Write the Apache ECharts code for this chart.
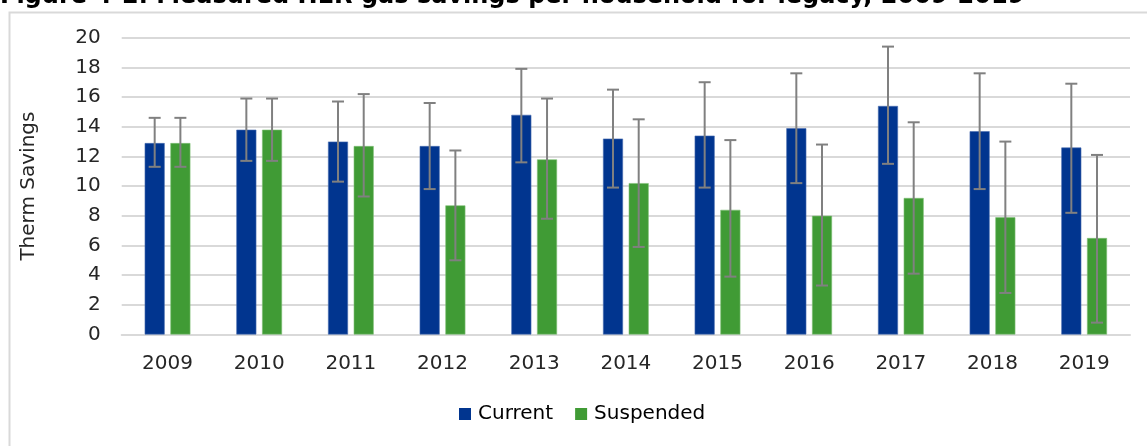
<!DOCTYPE html>
<html>
<head>
<meta charset="utf-8">
<script src="https://cdn.jsdelivr.net/npm/echarts@6/dist/echarts.min.js"></script>
<style>
html,body{margin:0;padding:0;background:#fff;}
#chart{width:1147px;height:446px;}
</style>
</head>
<body>
<div id="chart"></div>
<script>
const categories = ['2009','2010','2011','2012','2013','2014','2015','2016','2017','2018','2019'];
const current = [12.9, 13.8, 13.0, 12.7, 14.8, 13.2, 13.4, 13.9, 15.4, 13.7, 12.6];
const currentLow = [11.3, 11.7, 10.3, 9.8, 11.6, 9.9, 9.9, 10.2, 11.5, 9.8, 8.2];
const currentHigh = [14.6, 15.9, 15.7, 15.6, 17.9, 16.5, 17.0, 17.6, 19.4, 17.6, 16.9];
const suspended = [12.9, 13.8, 12.7, 8.7, 11.8, 10.2, 8.4, 8.0, 9.2, 7.9, 6.5];
const suspendedLow = [11.3, 11.7, 9.3, 5.0, 7.8, 5.9, 3.9, 3.3, 4.1, 2.8, 0.8];
const suspendedHigh = [14.6, 15.9, 16.2, 12.4, 15.9, 14.5, 13.1, 12.8, 14.3, 13.0, 12.1];
const yTicks = [0, 2, 4, 6, 8, 10, 12, 14, 16, 18, 20];

const FONT = 'DejaVu Sans';
const BAR_W = 20, BAR_GAP = 5.7;
const OFFSET = (BAR_W + BAR_GAP) / 2;

function errorSeries(low, high, dir) {
  return {
    type: 'custom',
    silent: true,
    z: 10,
    data: categories.map((c, i) => [i, low[i], high[i]]),
    renderItem: function (params, api) {
      const i = api.value(0);
      const lo = api.coord([i, api.value(1)]);
      const hi = api.coord([i, api.value(2)]);
      const x = lo[0] + dir * OFFSET;
      const cap = 6;
      const st = { stroke: '#808080', lineWidth: 2 };
      return {
        type: 'group',
        children: [
          { type: 'line', shape: { x1: x, y1: hi[1], x2: x, y2: lo[1] }, style: st },
          { type: 'line', shape: { x1: x - cap, y1: hi[1], x2: x + cap, y2: hi[1] }, style: st },
          { type: 'line', shape: { x1: x - cap, y1: lo[1], x2: x + cap, y2: lo[1] }, style: st }
        ]
      };
    }
  };
}

const chart = echarts.init(document.getElementById('chart'), null, { renderer: 'canvas' });
chart.setOption({
  animation: false,
  backgroundColor: '#fff',
  textStyle: { fontFamily: FONT },
  graphic: [
    { type: 'rect', left: 7, top: 10, shape: { x: 0, y: 0, width: 1300, height: 600 },
      style: { fill: 'none', stroke: '#d9d9d9', lineWidth: 2 }, z: -1 },
    { type: 'text', x: 0, y: -3, style: { text: 'Figure 4-2. Measured HER gas savings per household for legacy, 2009-2019',
      font: 'bold 24px "DejaVu Sans"', fill: '#000', textVerticalAlign: 'middle' } }
  ],
  grid: { left: 121.7, right: 17, top: 37.7, bottom: 111.5, containLabel: false },
  legend: {
    left: 459, top: 404, padding: 0,
    itemWidth: 12, itemHeight: 12, itemGap: 22,
    icon: 'rect',
    itemStyle: { borderWidth: 0 },
    textStyle: { fontFamily: FONT, fontSize: 20, color: '#000', padding: [0, 0, 0, 2] },
    data: ['Current', 'Suspended']
  },
  xAxis: {
    type: 'category',
    data: categories,
    axisLine: { lineStyle: { color: '#d9d9d9', width: 2 } },
    axisTick: { show: false },
    axisLabel: { fontFamily: FONT, fontSize: 20, color: '#262626', margin: 19 }
  },
  yAxis: {
    type: 'value',
    min: 0, max: 20, interval: 2,
    name: 'Therm Savings',
    nameLocation: 'middle',
    nameGap: 83,
    nameTextStyle: { fontFamily: FONT, fontSize: 20, color: '#262626' },
    axisLine: { show: false },
    axisTick: { show: false },
    splitLine: { lineStyle: { color: '#d9d9d9', width: 2 } },
    axisLabel: { fontFamily: FONT, fontSize: 20, color: '#262626', margin: 21,
      formatter: v => yTicks.includes(v) ? String(v) : '' }
  },
  series: [
    { name: 'Current', type: 'bar', data: current, barWidth: BAR_W, barGap: (BAR_GAP / BAR_W * 100) + '%',
      itemStyle: { color: '#01358f', borderColor: '#4a6db0', borderWidth: 0.6 } },
    { name: 'Suspended', type: 'bar', data: suspended, barWidth: BAR_W,
      itemStyle: { color: '#409b35', borderColor: '#7fbf77', borderWidth: 0.6 } },
    errorSeries(currentLow, currentHigh, -1),
    errorSeries(suspendedLow, suspendedHigh, 1)
  ]
});
</script>
</body>
</html>
